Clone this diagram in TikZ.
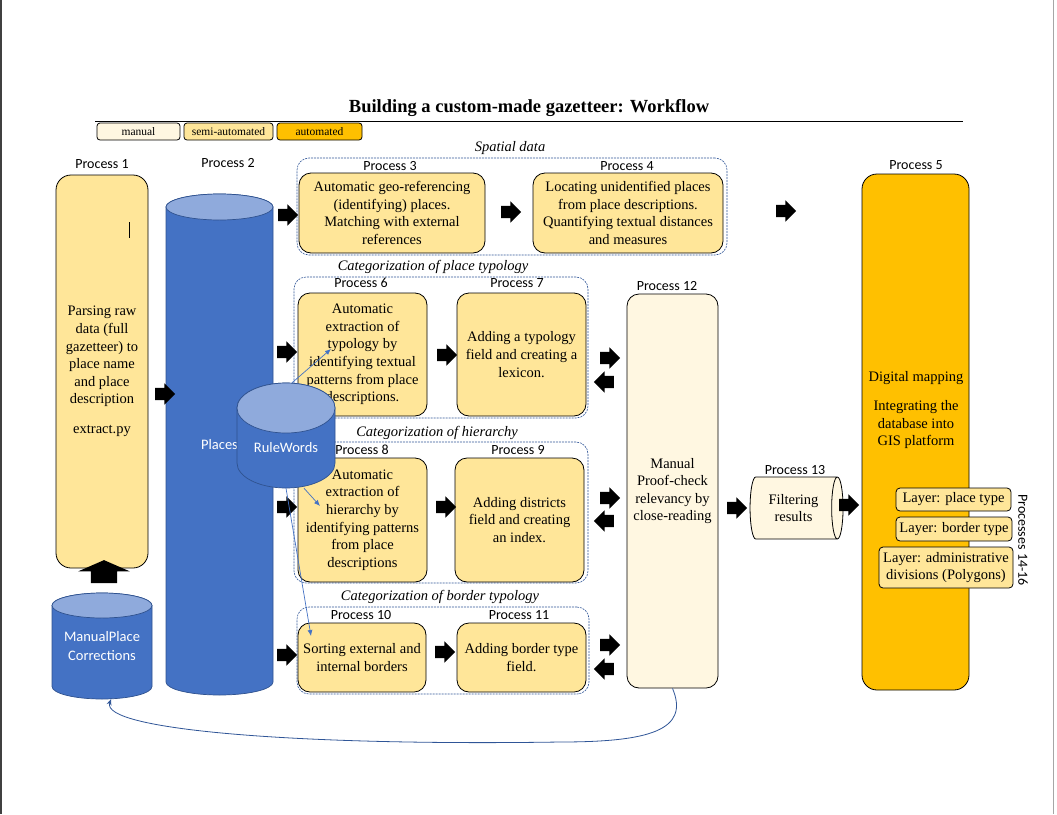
\documentclass[tikz,border=0pt]{standalone}
\usepackage{fontspec}
\setmainfont{Liberation Serif}
\newfontfamily\calibri{Carlito}
\usetikzlibrary{arrows.meta,shapes.geometric,shapes.arrows}

\definecolor{semicol}{HTML}{FFE699}
\definecolor{manualcol}{HTML}{FFF7E1}
\definecolor{autocol}{HTML}{FFC000}
\definecolor{dbblue}{HTML}{4472C4}
\definecolor{dbtop}{HTML}{8FAADC}
\definecolor{dbline}{HTML}{2F528F}
\definecolor{grpline}{HTML}{2F5597}

\begin{document}
\begin{tikzpicture}[x=1pt,y=-1pt]

    \tikzstyle{procbox}+=[
        draw,
        line width = 0.8pt,
        rounded corners=12pt,
        align=center,
        inner sep=0pt,
        font=\fontsize{14.5}{17.6}\selectfont
    ]
    \tikzstyle{semi}+=[procbox, fill=semicol]
    \tikzstyle{manual}+=[procbox, fill=manualcol]
    \tikzstyle{automated}+=[procbox, fill=autocol, rounded corners=15pt]
    \tikzstyle{legbox}+=[
        draw,
        line width = 0.8pt,
        rounded corners=3pt,
        inner sep=0pt,
        minimum height=17pt,
        font=\fontsize{11.5}{13}\selectfont
    ]
    \tikzstyle{layerbox}+=[
        procbox,
        fill=semicol,
        rounded corners=4pt,
        inner sep=1.5pt
    ]
    \tikzstyle{stage}+=[
        draw=grpline,
        dash pattern=on 2pt off 1pt,
        line width = 0.6pt,
        rounded corners=12pt,
        inner sep=0pt
    ]
    \tikzstyle{stagelabel}+=[font=\fontsize{14.5}{17}\selectfont\itshape, inner sep=0pt]
    \tikzstyle{proclabel}+=[font=\calibri\fontsize{14}{16}\selectfont, inner sep=0pt]
    \tikzstyle{dbshape}+=[
        draw=dbline,
        fill=dbblue,
        line width = 0.7pt
    ]
    \tikzstyle{dbtext}+=[
        inner sep=0pt,
        text=white,
        align=center,
        font=\calibri\fontsize{14.5}{19}\selectfont
    ]
    \tikzstyle{barrow}+=[
        single arrow,
        fill=black,
        inner xsep=0pt,
        inner ysep=6pt,
        minimum height=20pt,
        minimum width=21pt,
        single arrow head extend=4.5pt
    ]
    \tikzstyle{ruleline}+=[
        draw=dbblue,
        line width = 0.7pt,
        -{Latex[length=6pt,width=5pt]}
    ]
    \tikzstyle{backline}+=[
        draw=grpline,
        line width = 0.8pt,
        -{Stealth[length=6pt,width=5pt]}
    ]

    \useasboundingbox (0,0) rectangle (1057,814);
    \draw[line width=2pt, black!75] (1,0) -- (1,814);
    \draw[line width=0.8pt, black!35] (1053,0) -- (1053,814);

    % ----------------------------------------------------------------------------
    \node[font=\fontsize{18.5}{22}\selectfont\bfseries] (title) at (529,108) {Building a custom-made gazetteer: Workflow};
    \draw[line width=0.8pt] (95,121) -- (963,121);
    \node[legbox, fill=manualcol, minimum width=83pt] (legman) at (138.5,131.5) {manual};
    \node[legbox, fill=semicol, minimum width=89pt] (legsemi) at (228.5,131.5) {semi-automated};
    \node[legbox, fill=autocol, minimum width=85pt] (legauto) at (319.5,131.5) {automated};

    % ----------------------------------------------------------------------------
    \node[stage, minimum width=430pt, minimum height=97pt] (gspatial) at (512,206.5) {};
    \node[stage, minimum width=294pt, minimum height=141pt] (gtypo) at (441,347.5) {};
    \node[stage, minimum width=294pt, minimum height=141pt] (ghier) at (441,512.5) {};
    \node[stage, minimum width=292pt, minimum height=87pt] (gborder) at (443,650.5) {};
    \node[stagelabel] at (510,148) {Spatial data};
    \node[stagelabel] at (433,267) {Categorization of place typology};
    \node[stagelabel] at (437,433) {Categorization of hierarchy};
    \node[stagelabel] at (440,597) {Categorization of border typology};

    % ----------------------------------------------------------------------------
    \foreach \cx/\ct/\cb/\rx/\ry in {219.5/194/695/53.5/13, 102/593/699/50/12.5} {
        \draw[dbshape] (\cx-\rx,\ct+\ry) -- (\cx-\rx,\cb-\ry)
            arc[start angle=180, end angle=360, x radius=\rx pt, y radius=\ry pt]
            -- (\cx+\rx,\ct+\ry)
            arc[start angle=0, end angle=180, x radius=\rx pt, y radius=\ry pt] -- cycle;
        \draw[dbshape, fill=dbtop] (\cx,\ct+\ry) ellipse [x radius=\rx pt, y radius=\ry pt];
    }
    \node[dbtext, minimum width=107pt, minimum height=501pt] (places) at (219.5,444.5) {Places};
    \node[dbtext, minimum width=100pt, minimum height=106pt] (mpc) at (102,646) {ManualPlace\\Corrections};

    \node[semi, rounded corners=15pt, minimum width=92pt, minimum height=393pt] (p1) at (102,371.5)
        {Parsing raw\\data (full\\gazetteer) to\\place name\\and place\\description\\[12pt]extract.py};
    \draw[line width=0.6pt] (129,222) -- (129,238);
    \node[semi, minimum width=186pt, minimum height=80pt] (p3) at (392,213)
        {Automatic geo-referencing\\(identifying) places.\\Matching with external\\references};
    \node[semi, minimum width=190pt, minimum height=80pt] (p4) at (628,213)
        {Locating unidentified places\\from place descriptions.\\Quantifying textual distances\\and measures};
    \node[semi, minimum width=129pt, minimum height=123pt] (p6) at (362.5,354.5)
        {Automatic\\extraction of\\typology by\\identifying textual\\patterns from place\\descriptions.};
    \node[semi, minimum width=129pt, minimum height=123pt] (p7) at (521.5,354.5)
        {Adding a typology\\field and creating a\\lexicon.};
    \node[semi, minimum width=129pt, minimum height=124pt] (p8) at (362.5,520)
        {Automatic\\extraction of\\hierarchy by\\identifying patterns\\from place\\descriptions};
    \node[semi, minimum width=129pt, minimum height=124pt] (p9) at (519.5,520)
        {Adding districts\\field and creating\\an index.};
    \node[semi, minimum width=128pt, minimum height=69pt] (p10) at (362,657.5)
        {Sorting external and\\internal borders};
    \node[semi, minimum width=129pt, minimum height=69pt] (p11) at (521.5,657.5)
        {Adding border type\\field.};
    \node[manual, minimum width=91pt, minimum height=394pt] (p12) at (672.5,491)
        {Manual\\Proof-check\\relevancy by\\close-reading};
    \node[cylinder, draw, line width=0.8pt, fill=manualcol, aspect=0.41, minimum width=62pt, minimum height=93pt,
        inner sep=0pt, align=center, font=\fontsize{14.5}{17.6}\selectfont] (p13) at (793.5,508) {Filtering\\results};
    \node[automated, minimum width=107pt, minimum height=516pt] (p5) at (915.5,432) {};
    \node[align=center, font=\fontsize{14.5}{17.6}\selectfont] (p5txt) at (916,410)
        {Digital mapping\\[12pt]Integrating the\\database into\\GIS platform};

    % ----------------------------------------------------------------------------
    \node[layerbox, minimum width=115pt, minimum height=23pt] (lay1) at (953.5,499.5) {Layer: place type};
    \node[layerbox, minimum width=116pt, minimum height=24pt] (lay2) at (954,529) {Layer: border type};
    \node[layerbox, minimum width=134pt, minimum height=41pt] (lay3) at (946,567.5) {Layer: administrative\\divisions (Polygons)};
    \node[proclabel, rotate=-90] (lay) at (1023,540) {Processes 14-16};

    % ----------------------------------------------------------------------------
    \node[proclabel] at (102,164) {Process 1};
    \node[proclabel] at (228,163) {Process 2};
    \node[proclabel] at (390,166) {Process 3};
    \node[proclabel] at (627,166) {Process 4};
    \node[proclabel] at (916,165) {Process 5};
    \node[proclabel] at (361,283) {Process 6};
    \node[proclabel] at (517,283) {Process 7};
    \node[proclabel] at (362,450) {Process 8};
    \node[proclabel] at (518,450) {Process 9};
    \node[proclabel] at (361,615) {Process 10};
    \node[proclabel] at (519,615) {Process 11};
    \node[proclabel] at (667,286) {Process 12};
    \node[proclabel] at (795,470) {Process 13};

    % ----------------------------------------------------------------------------
    \foreach \ax/\ay/\rot [count=\i] in {162/394/0, 285/215/0, 508/212/0, 783/211/0,
        284/352/0, 444/355/0, 607/358/0, 607/382/180,
        284/507/0, 443/507/0, 607/498/0, 607/521/180,
        284/655/0, 442/652/0, 607/645/0, 607/669/180,
        734/508/0, 846/505/0}
        \node[barrow, rotate=\rot] (ba\i) at (\ax,\ay) {};
    \node[barrow, rotate=90, minimum width=51pt, inner ysep=13pt, minimum height=23pt,
        single arrow head extend=12.5pt, single arrow tip angle=133] (baup) at (104,574.5) {};

    % ----------------------------------------------------------------------------
    \draw[dbshape] (237,408) -- (237,463)
        arc[start angle=180, end angle=360, x radius=49pt, y radius=25pt]
        -- (335,408)
        arc[start angle=0, end angle=180, x radius=49pt, y radius=25pt] -- cycle;
    \draw[dbshape, fill=dbtop] (286,408) ellipse [x radius=49pt, y radius=25pt];
    \node[dbtext, minimum width=98pt, minimum height=105pt,
        text height=36pt, text depth=2pt] (rule) at (286,435.5) {RuleWords};

    \coordinate (t6) at (331,349);
    \coordinate (t8) at (320,506);
    \coordinate (t10) at (311,636);
    \draw[ruleline] ([xshift=6pt]rule.north) -- (t6);
    \draw[ruleline] ([xshift=18pt]rule.south) -- (t8);
    \draw[ruleline] (rule.south) -- (t10);

    \draw[backline] (p12.south) .. controls (690,730) and (650,742) .. (560,742)
        .. controls (300,746) and (100,730) .. ([xshift=9pt]mpc.south);

\end{tikzpicture}
\end{document}
